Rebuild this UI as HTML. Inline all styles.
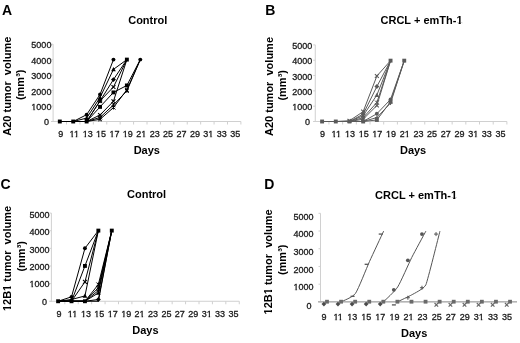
<!DOCTYPE html><html><head><meta charset="utf-8"><style>html,body{margin:0;padding:0;background:#fff;width:520px;height:343px;overflow:hidden;}body{position:relative;font-family:"Liberation Sans", sans-serif;}</style></head><body><svg width="520" height="343" viewBox="0 0 520 343" style="position:absolute;left:0;top:0;font-family:'Liberation Sans', sans-serif;filter:grayscale(1) blur(0.3px)">
<rect width="520" height="343" fill="#fff"/>
<text x="2" y="14.6" font-size="14" font-weight="bold" text-anchor="start" fill="#000" >A</text>
<text x="128.2" y="24" font-size="11" font-weight="bold" text-anchor="start" fill="#000" >Control</text>
<text transform="translate(11.2,86.2) rotate(-90)" font-size="11" font-weight="bold" text-anchor="middle" fill="#000">A20 tumor&#160; volume</text>
<text transform="translate(24.2,84.8) rotate(-90)" font-size="11" font-weight="bold" text-anchor="middle" fill="#000">(mm&#179;)</text>
<line x1="53.1" y1="44.2" x2="53.1" y2="122" stroke="#d0d0d0" stroke-width="1" />
<line x1="51.1" y1="121.5" x2="240.9" y2="121.5" stroke="#d0d0d0" stroke-width="1" />
<line x1="51.1" y1="121.5" x2="53.1" y2="121.5" stroke="#d0d0d0" stroke-width="1" />
<line x1="51.1" y1="106.04" x2="53.1" y2="106.04" stroke="#d0d0d0" stroke-width="1" />
<line x1="51.1" y1="90.58" x2="53.1" y2="90.58" stroke="#d0d0d0" stroke-width="1" />
<line x1="51.1" y1="75.12" x2="53.1" y2="75.12" stroke="#d0d0d0" stroke-width="1" />
<line x1="51.1" y1="59.66" x2="53.1" y2="59.66" stroke="#d0d0d0" stroke-width="1" />
<line x1="51.1" y1="44.2" x2="53.1" y2="44.2" stroke="#d0d0d0" stroke-width="1" />
<line x1="66.51" y1="121.5" x2="66.51" y2="124.5" stroke="#d0d0d0" stroke-width="1" />
<line x1="79.93" y1="121.5" x2="79.93" y2="124.5" stroke="#d0d0d0" stroke-width="1" />
<line x1="93.34" y1="121.5" x2="93.34" y2="124.5" stroke="#d0d0d0" stroke-width="1" />
<line x1="106.76" y1="121.5" x2="106.76" y2="124.5" stroke="#d0d0d0" stroke-width="1" />
<line x1="120.17" y1="121.5" x2="120.17" y2="124.5" stroke="#d0d0d0" stroke-width="1" />
<line x1="133.59" y1="121.5" x2="133.59" y2="124.5" stroke="#d0d0d0" stroke-width="1" />
<line x1="147" y1="121.5" x2="147" y2="124.5" stroke="#d0d0d0" stroke-width="1" />
<line x1="160.41" y1="121.5" x2="160.41" y2="124.5" stroke="#d0d0d0" stroke-width="1" />
<line x1="173.83" y1="121.5" x2="173.83" y2="124.5" stroke="#d0d0d0" stroke-width="1" />
<line x1="187.24" y1="121.5" x2="187.24" y2="124.5" stroke="#d0d0d0" stroke-width="1" />
<line x1="200.66" y1="121.5" x2="200.66" y2="124.5" stroke="#d0d0d0" stroke-width="1" />
<line x1="214.07" y1="121.5" x2="214.07" y2="124.5" stroke="#d0d0d0" stroke-width="1" />
<line x1="227.49" y1="121.5" x2="227.49" y2="124.5" stroke="#d0d0d0" stroke-width="1" />
<line x1="240.9" y1="121.5" x2="240.9" y2="124.5" stroke="#d0d0d0" stroke-width="1" />
<text x="49" y="125.4" font-size="9" font-weight="normal" text-anchor="end" fill="#1a1a1a" stroke="#1a1a1a" stroke-width="0.3">0</text>
<text x="51.4" y="110.1" font-size="9" font-weight="normal" text-anchor="end" fill="#1a1a1a" stroke="#1a1a1a" stroke-width="0.3">1000</text><rect x="31.2" y="109.08" width="2.13" height="1.82" fill="#fff"/><rect x="34.73" y="109.08" width="1.91" height="1.82" fill="#fff"/>
<text x="51.4" y="95.2" font-size="9" font-weight="normal" text-anchor="end" fill="#1a1a1a" stroke="#1a1a1a" stroke-width="0.3">2000</text>
<text x="51.4" y="78.8" font-size="9" font-weight="normal" text-anchor="end" fill="#1a1a1a" stroke="#1a1a1a" stroke-width="0.3">3000</text>
<text x="51.4" y="63.7" font-size="9" font-weight="normal" text-anchor="end" fill="#1a1a1a" stroke="#1a1a1a" stroke-width="0.3">4000</text>
<text x="51.4" y="48.2" font-size="9" font-weight="normal" text-anchor="end" fill="#1a1a1a" stroke="#1a1a1a" stroke-width="0.3">5000</text>
<text x="60.81" y="137.2" font-size="9" font-weight="normal" text-anchor="middle" fill="#1a1a1a" stroke="#1a1a1a" stroke-width="0.3">9</text>
<text x="74.22" y="137.2" font-size="9" font-weight="normal" text-anchor="middle" fill="#1a1a1a" stroke="#1a1a1a" stroke-width="0.3">11</text><rect x="69.38" y="136.08" width="2.13" height="1.82" fill="#fff"/><rect x="72.91" y="136.08" width="1.91" height="1.82" fill="#fff"/><rect x="73.71" y="136.08" width="2.13" height="1.82" fill="#fff"/><rect x="77.23" y="136.08" width="1.91" height="1.82" fill="#fff"/>
<text x="87.64" y="137.2" font-size="9" font-weight="normal" text-anchor="middle" fill="#1a1a1a" stroke="#1a1a1a" stroke-width="0.3">13</text><rect x="82.47" y="136.08" width="2.13" height="1.82" fill="#fff"/><rect x="85.99" y="136.08" width="1.91" height="1.82" fill="#fff"/>
<text x="101.05" y="137.2" font-size="9" font-weight="normal" text-anchor="middle" fill="#1a1a1a" stroke="#1a1a1a" stroke-width="0.3">15</text><rect x="95.88" y="136.08" width="2.13" height="1.82" fill="#fff"/><rect x="99.4" y="136.08" width="1.91" height="1.82" fill="#fff"/>
<text x="114.46" y="137.2" font-size="9" font-weight="normal" text-anchor="middle" fill="#1a1a1a" stroke="#1a1a1a" stroke-width="0.3">17</text><rect x="109.29" y="136.08" width="2.13" height="1.82" fill="#fff"/><rect x="112.81" y="136.08" width="1.91" height="1.82" fill="#fff"/>
<text x="127.88" y="137.2" font-size="9" font-weight="normal" text-anchor="middle" fill="#1a1a1a" stroke="#1a1a1a" stroke-width="0.3">19</text><rect x="122.71" y="136.08" width="2.13" height="1.82" fill="#fff"/><rect x="126.23" y="136.08" width="1.91" height="1.82" fill="#fff"/>
<text x="141.29" y="137.2" font-size="9" font-weight="normal" text-anchor="middle" fill="#1a1a1a" stroke="#1a1a1a" stroke-width="0.3">21</text><rect x="141.12" y="136.08" width="2.13" height="1.82" fill="#fff"/><rect x="144.64" y="136.08" width="1.91" height="1.82" fill="#fff"/>
<text x="154.7" y="137.2" font-size="9" font-weight="normal" text-anchor="middle" fill="#1a1a1a" stroke="#1a1a1a" stroke-width="0.3">23</text>
<text x="168.12" y="137.2" font-size="9" font-weight="normal" text-anchor="middle" fill="#1a1a1a" stroke="#1a1a1a" stroke-width="0.3">25</text>
<text x="181.53" y="137.2" font-size="9" font-weight="normal" text-anchor="middle" fill="#1a1a1a" stroke="#1a1a1a" stroke-width="0.3">27</text>
<text x="194.95" y="137.2" font-size="9" font-weight="normal" text-anchor="middle" fill="#1a1a1a" stroke="#1a1a1a" stroke-width="0.3">29</text>
<text x="208.36" y="137.2" font-size="9" font-weight="normal" text-anchor="middle" fill="#1a1a1a" stroke="#1a1a1a" stroke-width="0.3">31</text><rect x="208.19" y="136.08" width="2.13" height="1.82" fill="#fff"/><rect x="211.71" y="136.08" width="1.91" height="1.82" fill="#fff"/>
<text x="221.77" y="137.2" font-size="9" font-weight="normal" text-anchor="middle" fill="#1a1a1a" stroke="#1a1a1a" stroke-width="0.3">33</text>
<text x="235.19" y="137.2" font-size="9" font-weight="normal" text-anchor="middle" fill="#1a1a1a" stroke="#1a1a1a" stroke-width="0.3">35</text>
<text x="146.8" y="154.4" font-size="11" font-weight="bold" text-anchor="middle" fill="#000" >Days</text>
<text x="265.3" y="14.8" font-size="14" font-weight="bold" text-anchor="start" fill="#000" >B</text>
<text x="380.5" y="23.8" font-size="11" font-weight="bold" text-anchor="start" fill="#000" >CRCL + emTh-1</text><rect x="456.22" y="22.63" width="2.42" height="2.27" fill="#fff"/><rect x="460.75" y="22.63" width="2.13" height="2.27" fill="#fff"/>
<text transform="translate(272.5,86.5) rotate(-90)" font-size="11" font-weight="bold" text-anchor="middle" fill="#000">A20 tumor&#160; volume</text>
<text transform="translate(285.8,85.3) rotate(-90)" font-size="11" font-weight="bold" text-anchor="middle" fill="#000">(mm&#179;)</text>
<line x1="315.25" y1="44.9" x2="315.25" y2="122" stroke="#d0d0d0" stroke-width="1" />
<line x1="313.25" y1="121.5" x2="506.9" y2="121.5" stroke="#d0d0d0" stroke-width="1" />
<line x1="313.25" y1="121.5" x2="315.25" y2="121.5" stroke="#d0d0d0" stroke-width="1" />
<line x1="313.25" y1="106.18" x2="315.25" y2="106.18" stroke="#d0d0d0" stroke-width="1" />
<line x1="313.25" y1="90.86" x2="315.25" y2="90.86" stroke="#d0d0d0" stroke-width="1" />
<line x1="313.25" y1="75.54" x2="315.25" y2="75.54" stroke="#d0d0d0" stroke-width="1" />
<line x1="313.25" y1="60.22" x2="315.25" y2="60.22" stroke="#d0d0d0" stroke-width="1" />
<line x1="313.25" y1="44.9" x2="315.25" y2="44.9" stroke="#d0d0d0" stroke-width="1" />
<line x1="328.94" y1="121.5" x2="328.94" y2="124.5" stroke="#d0d0d0" stroke-width="1" />
<line x1="342.63" y1="121.5" x2="342.63" y2="124.5" stroke="#d0d0d0" stroke-width="1" />
<line x1="356.32" y1="121.5" x2="356.32" y2="124.5" stroke="#d0d0d0" stroke-width="1" />
<line x1="370.01" y1="121.5" x2="370.01" y2="124.5" stroke="#d0d0d0" stroke-width="1" />
<line x1="383.7" y1="121.5" x2="383.7" y2="124.5" stroke="#d0d0d0" stroke-width="1" />
<line x1="397.39" y1="121.5" x2="397.39" y2="124.5" stroke="#d0d0d0" stroke-width="1" />
<line x1="411.07" y1="121.5" x2="411.07" y2="124.5" stroke="#d0d0d0" stroke-width="1" />
<line x1="424.76" y1="121.5" x2="424.76" y2="124.5" stroke="#d0d0d0" stroke-width="1" />
<line x1="438.45" y1="121.5" x2="438.45" y2="124.5" stroke="#d0d0d0" stroke-width="1" />
<line x1="452.14" y1="121.5" x2="452.14" y2="124.5" stroke="#d0d0d0" stroke-width="1" />
<line x1="465.83" y1="121.5" x2="465.83" y2="124.5" stroke="#d0d0d0" stroke-width="1" />
<line x1="479.52" y1="121.5" x2="479.52" y2="124.5" stroke="#d0d0d0" stroke-width="1" />
<line x1="493.21" y1="121.5" x2="493.21" y2="124.5" stroke="#d0d0d0" stroke-width="1" />
<line x1="506.9" y1="121.5" x2="506.9" y2="124.5" stroke="#d0d0d0" stroke-width="1" />
<text x="310.1" y="125.4" font-size="9" font-weight="normal" text-anchor="end" fill="#1a1a1a" stroke="#1a1a1a" stroke-width="0.3">0</text>
<text x="312.3" y="110.1" font-size="9" font-weight="normal" text-anchor="end" fill="#1a1a1a" stroke="#1a1a1a" stroke-width="0.3">1000</text><rect x="292.1" y="109.08" width="2.13" height="1.82" fill="#fff"/><rect x="295.63" y="109.08" width="1.91" height="1.82" fill="#fff"/>
<text x="312.3" y="94.8" font-size="9" font-weight="normal" text-anchor="end" fill="#1a1a1a" stroke="#1a1a1a" stroke-width="0.3">2000</text>
<text x="312.3" y="79.5" font-size="9" font-weight="normal" text-anchor="end" fill="#1a1a1a" stroke="#1a1a1a" stroke-width="0.3">3000</text>
<text x="312.3" y="64.3" font-size="9" font-weight="normal" text-anchor="end" fill="#1a1a1a" stroke="#1a1a1a" stroke-width="0.3">4000</text>
<text x="312.3" y="48.9" font-size="9" font-weight="normal" text-anchor="end" fill="#1a1a1a" stroke="#1a1a1a" stroke-width="0.3">5000</text>
<text x="322.6" y="136.9" font-size="9" font-weight="normal" text-anchor="middle" fill="#1a1a1a" stroke="#1a1a1a" stroke-width="0.3">9</text>
<text x="336.29" y="136.9" font-size="9" font-weight="normal" text-anchor="middle" fill="#1a1a1a" stroke="#1a1a1a" stroke-width="0.3">11</text><rect x="331.45" y="136.08" width="2.13" height="1.82" fill="#fff"/><rect x="334.98" y="136.08" width="1.91" height="1.82" fill="#fff"/><rect x="335.78" y="136.08" width="2.13" height="1.82" fill="#fff"/><rect x="339.3" y="136.08" width="1.91" height="1.82" fill="#fff"/>
<text x="349.98" y="136.9" font-size="9" font-weight="normal" text-anchor="middle" fill="#1a1a1a" stroke="#1a1a1a" stroke-width="0.3">13</text><rect x="344.81" y="136.08" width="2.13" height="1.82" fill="#fff"/><rect x="348.33" y="136.08" width="1.91" height="1.82" fill="#fff"/>
<text x="363.67" y="136.9" font-size="9" font-weight="normal" text-anchor="middle" fill="#1a1a1a" stroke="#1a1a1a" stroke-width="0.3">15</text><rect x="358.5" y="136.08" width="2.13" height="1.82" fill="#fff"/><rect x="362.02" y="136.08" width="1.91" height="1.82" fill="#fff"/>
<text x="377.36" y="136.9" font-size="9" font-weight="normal" text-anchor="middle" fill="#1a1a1a" stroke="#1a1a1a" stroke-width="0.3">17</text><rect x="372.19" y="136.08" width="2.13" height="1.82" fill="#fff"/><rect x="375.71" y="136.08" width="1.91" height="1.82" fill="#fff"/>
<text x="391.05" y="136.9" font-size="9" font-weight="normal" text-anchor="middle" fill="#1a1a1a" stroke="#1a1a1a" stroke-width="0.3">19</text><rect x="385.88" y="136.08" width="2.13" height="1.82" fill="#fff"/><rect x="389.4" y="136.08" width="1.91" height="1.82" fill="#fff"/>
<text x="404.74" y="136.9" font-size="9" font-weight="normal" text-anchor="middle" fill="#1a1a1a" stroke="#1a1a1a" stroke-width="0.3">21</text><rect x="404.57" y="136.08" width="2.13" height="1.82" fill="#fff"/><rect x="408.09" y="136.08" width="1.91" height="1.82" fill="#fff"/>
<text x="418.43" y="136.9" font-size="9" font-weight="normal" text-anchor="middle" fill="#1a1a1a" stroke="#1a1a1a" stroke-width="0.3">23</text>
<text x="432.12" y="136.9" font-size="9" font-weight="normal" text-anchor="middle" fill="#1a1a1a" stroke="#1a1a1a" stroke-width="0.3">25</text>
<text x="445.81" y="136.9" font-size="9" font-weight="normal" text-anchor="middle" fill="#1a1a1a" stroke="#1a1a1a" stroke-width="0.3">27</text>
<text x="459.5" y="136.9" font-size="9" font-weight="normal" text-anchor="middle" fill="#1a1a1a" stroke="#1a1a1a" stroke-width="0.3">29</text>
<text x="473.19" y="136.9" font-size="9" font-weight="normal" text-anchor="middle" fill="#1a1a1a" stroke="#1a1a1a" stroke-width="0.3">31</text><rect x="473.02" y="136.08" width="2.13" height="1.82" fill="#fff"/><rect x="476.54" y="136.08" width="1.91" height="1.82" fill="#fff"/>
<text x="486.88" y="136.9" font-size="9" font-weight="normal" text-anchor="middle" fill="#1a1a1a" stroke="#1a1a1a" stroke-width="0.3">33</text>
<text x="500.57" y="136.9" font-size="9" font-weight="normal" text-anchor="middle" fill="#1a1a1a" stroke="#1a1a1a" stroke-width="0.3">35</text>
<text x="413.1" y="154.4" font-size="11" font-weight="bold" text-anchor="middle" fill="#000" >Days</text>
<text x="0.6" y="189.2" font-size="14" font-weight="bold" text-anchor="start" fill="#000" >C</text>
<text x="127" y="197.5" font-size="11" font-weight="bold" text-anchor="start" fill="#000" >Control</text>
<text transform="translate(11,258.5) rotate(-90)" font-size="11" font-weight="bold" text-anchor="middle" fill="#000">12B1 tumor&#160; volume</text><g transform="translate(11,258.5) rotate(-90)"><rect x="-52.73" y="-1.62" width="2.42" height="2.52" fill="#fff"/><rect x="-48.19" y="-1.62" width="2.13" height="2.52" fill="#fff"/><rect x="-32.56" y="-1.62" width="2.42" height="2.52" fill="#fff"/><rect x="-28.02" y="-1.62" width="2.13" height="2.52" fill="#fff"/></g>
<text transform="translate(25,256.3) rotate(-90)" font-size="11" font-weight="bold" text-anchor="middle" fill="#000">(mm&#179;)</text>
<line x1="51.4" y1="213.1" x2="51.4" y2="301.75" stroke="#d0d0d0" stroke-width="1" />
<line x1="49.4" y1="301.25" x2="239.25" y2="301.25" stroke="#d0d0d0" stroke-width="1" />
<line x1="49.4" y1="301.25" x2="51.4" y2="301.25" stroke="#d0d0d0" stroke-width="1" />
<line x1="49.4" y1="283.62" x2="51.4" y2="283.62" stroke="#d0d0d0" stroke-width="1" />
<line x1="49.4" y1="265.99" x2="51.4" y2="265.99" stroke="#d0d0d0" stroke-width="1" />
<line x1="49.4" y1="248.36" x2="51.4" y2="248.36" stroke="#d0d0d0" stroke-width="1" />
<line x1="49.4" y1="230.73" x2="51.4" y2="230.73" stroke="#d0d0d0" stroke-width="1" />
<line x1="49.4" y1="213.1" x2="51.4" y2="213.1" stroke="#d0d0d0" stroke-width="1" />
<line x1="64.82" y1="301.25" x2="64.82" y2="304.25" stroke="#d0d0d0" stroke-width="1" />
<line x1="78.24" y1="301.25" x2="78.24" y2="304.25" stroke="#d0d0d0" stroke-width="1" />
<line x1="91.65" y1="301.25" x2="91.65" y2="304.25" stroke="#d0d0d0" stroke-width="1" />
<line x1="105.07" y1="301.25" x2="105.07" y2="304.25" stroke="#d0d0d0" stroke-width="1" />
<line x1="118.49" y1="301.25" x2="118.49" y2="304.25" stroke="#d0d0d0" stroke-width="1" />
<line x1="131.91" y1="301.25" x2="131.91" y2="304.25" stroke="#d0d0d0" stroke-width="1" />
<line x1="145.32" y1="301.25" x2="145.32" y2="304.25" stroke="#d0d0d0" stroke-width="1" />
<line x1="158.74" y1="301.25" x2="158.74" y2="304.25" stroke="#d0d0d0" stroke-width="1" />
<line x1="172.16" y1="301.25" x2="172.16" y2="304.25" stroke="#d0d0d0" stroke-width="1" />
<line x1="185.58" y1="301.25" x2="185.58" y2="304.25" stroke="#d0d0d0" stroke-width="1" />
<line x1="199" y1="301.25" x2="199" y2="304.25" stroke="#d0d0d0" stroke-width="1" />
<line x1="212.41" y1="301.25" x2="212.41" y2="304.25" stroke="#d0d0d0" stroke-width="1" />
<line x1="225.83" y1="301.25" x2="225.83" y2="304.25" stroke="#d0d0d0" stroke-width="1" />
<line x1="239.25" y1="301.25" x2="239.25" y2="304.25" stroke="#d0d0d0" stroke-width="1" />
<text x="46.9" y="305.2" font-size="9" font-weight="normal" text-anchor="end" fill="#1a1a1a" stroke="#1a1a1a" stroke-width="0.3">0</text>
<text x="49.6" y="287.2" font-size="9" font-weight="normal" text-anchor="end" fill="#1a1a1a" stroke="#1a1a1a" stroke-width="0.3">1000</text><rect x="29.4" y="286.08" width="2.13" height="1.82" fill="#fff"/><rect x="32.93" y="286.08" width="1.91" height="1.82" fill="#fff"/>
<text x="49.6" y="269.7" font-size="9" font-weight="normal" text-anchor="end" fill="#1a1a1a" stroke="#1a1a1a" stroke-width="0.3">2000</text>
<text x="49.6" y="253.2" font-size="9" font-weight="normal" text-anchor="end" fill="#1a1a1a" stroke="#1a1a1a" stroke-width="0.3">3000</text>
<text x="49.6" y="235.1" font-size="9" font-weight="normal" text-anchor="end" fill="#1a1a1a" stroke="#1a1a1a" stroke-width="0.3">4000</text>
<text x="49.6" y="217.6" font-size="9" font-weight="normal" text-anchor="end" fill="#1a1a1a" stroke="#1a1a1a" stroke-width="0.3">5000</text>
<text x="59.11" y="316.6" font-size="9" font-weight="normal" text-anchor="middle" fill="#1a1a1a" stroke="#1a1a1a" stroke-width="0.3">9</text>
<text x="72.53" y="316.6" font-size="9" font-weight="normal" text-anchor="middle" fill="#1a1a1a" stroke="#1a1a1a" stroke-width="0.3">11</text><rect x="67.69" y="316.08" width="2.13" height="1.82" fill="#fff"/><rect x="71.22" y="316.08" width="1.91" height="1.82" fill="#fff"/><rect x="72.02" y="316.08" width="2.13" height="1.82" fill="#fff"/><rect x="75.54" y="316.08" width="1.91" height="1.82" fill="#fff"/>
<text x="85.94" y="316.6" font-size="9" font-weight="normal" text-anchor="middle" fill="#1a1a1a" stroke="#1a1a1a" stroke-width="0.3">13</text><rect x="80.77" y="316.08" width="2.13" height="1.82" fill="#fff"/><rect x="84.29" y="316.08" width="1.91" height="1.82" fill="#fff"/>
<text x="99.36" y="316.6" font-size="9" font-weight="normal" text-anchor="middle" fill="#1a1a1a" stroke="#1a1a1a" stroke-width="0.3">15</text><rect x="94.19" y="316.08" width="2.13" height="1.82" fill="#fff"/><rect x="97.71" y="316.08" width="1.91" height="1.82" fill="#fff"/>
<text x="112.78" y="316.6" font-size="9" font-weight="normal" text-anchor="middle" fill="#1a1a1a" stroke="#1a1a1a" stroke-width="0.3">17</text><rect x="107.61" y="316.08" width="2.13" height="1.82" fill="#fff"/><rect x="111.13" y="316.08" width="1.91" height="1.82" fill="#fff"/>
<text x="126.2" y="316.6" font-size="9" font-weight="normal" text-anchor="middle" fill="#1a1a1a" stroke="#1a1a1a" stroke-width="0.3">19</text><rect x="121.03" y="316.08" width="2.13" height="1.82" fill="#fff"/><rect x="124.55" y="316.08" width="1.91" height="1.82" fill="#fff"/>
<text x="139.62" y="316.6" font-size="9" font-weight="normal" text-anchor="middle" fill="#1a1a1a" stroke="#1a1a1a" stroke-width="0.3">21</text><rect x="139.45" y="316.08" width="2.13" height="1.82" fill="#fff"/><rect x="142.97" y="316.08" width="1.91" height="1.82" fill="#fff"/>
<text x="153.03" y="316.6" font-size="9" font-weight="normal" text-anchor="middle" fill="#1a1a1a" stroke="#1a1a1a" stroke-width="0.3">23</text>
<text x="166.45" y="316.6" font-size="9" font-weight="normal" text-anchor="middle" fill="#1a1a1a" stroke="#1a1a1a" stroke-width="0.3">25</text>
<text x="179.87" y="316.6" font-size="9" font-weight="normal" text-anchor="middle" fill="#1a1a1a" stroke="#1a1a1a" stroke-width="0.3">27</text>
<text x="193.29" y="316.6" font-size="9" font-weight="normal" text-anchor="middle" fill="#1a1a1a" stroke="#1a1a1a" stroke-width="0.3">29</text>
<text x="206.71" y="316.6" font-size="9" font-weight="normal" text-anchor="middle" fill="#1a1a1a" stroke="#1a1a1a" stroke-width="0.3">31</text><rect x="206.54" y="316.08" width="2.13" height="1.82" fill="#fff"/><rect x="210.06" y="316.08" width="1.91" height="1.82" fill="#fff"/>
<text x="220.12" y="316.6" font-size="9" font-weight="normal" text-anchor="middle" fill="#1a1a1a" stroke="#1a1a1a" stroke-width="0.3">33</text>
<text x="233.54" y="316.6" font-size="9" font-weight="normal" text-anchor="middle" fill="#1a1a1a" stroke="#1a1a1a" stroke-width="0.3">35</text>
<text x="145.4" y="333.5" font-size="11" font-weight="bold" text-anchor="middle" fill="#000" >Days</text>
<text x="264.2" y="189.4" font-size="14" font-weight="bold" text-anchor="start" fill="#000" >D</text>
<text x="375.1" y="198.75" font-size="11" font-weight="bold" text-anchor="start" fill="#000" >CRCL + emTh-1</text><rect x="450.82" y="197.63" width="2.42" height="2.27" fill="#fff"/><rect x="455.35" y="197.63" width="2.13" height="2.27" fill="#fff"/>
<text transform="translate(272,261.9) rotate(-90)" font-size="11" font-weight="bold" text-anchor="middle" fill="#000">12B1 tumor&#160; volume</text><g transform="translate(272,261.9) rotate(-90)"><rect x="-52.73" y="-1.62" width="2.42" height="2.52" fill="#fff"/><rect x="-48.19" y="-1.62" width="2.13" height="2.52" fill="#fff"/><rect x="-32.56" y="-1.62" width="2.42" height="2.52" fill="#fff"/><rect x="-28.02" y="-1.62" width="2.13" height="2.52" fill="#fff"/></g>
<text transform="translate(285.8,259.8) rotate(-90)" font-size="11" font-weight="bold" text-anchor="middle" fill="#000">(mm&#179;)</text>
<line x1="320.5" y1="213.3" x2="320.5" y2="302.4" stroke="#d0d0d0" stroke-width="1" />
<line x1="318.5" y1="301.9" x2="517" y2="301.9" stroke="#d0d0d0" stroke-width="1" />
<line x1="318.5" y1="301.9" x2="320.5" y2="301.9" stroke="#d0d0d0" stroke-width="1" />
<line x1="318.5" y1="284.18" x2="320.5" y2="284.18" stroke="#d0d0d0" stroke-width="1" />
<line x1="318.5" y1="266.46" x2="320.5" y2="266.46" stroke="#d0d0d0" stroke-width="1" />
<line x1="318.5" y1="248.74" x2="320.5" y2="248.74" stroke="#d0d0d0" stroke-width="1" />
<line x1="318.5" y1="231.02" x2="320.5" y2="231.02" stroke="#d0d0d0" stroke-width="1" />
<line x1="318.5" y1="213.3" x2="320.5" y2="213.3" stroke="#d0d0d0" stroke-width="1" />
<text x="311.4" y="308.8" font-size="9" font-weight="normal" text-anchor="end" fill="#1a1a1a" stroke="#1a1a1a" stroke-width="0.3">0</text>
<text x="313.5" y="290.2" font-size="9" font-weight="normal" text-anchor="end" fill="#1a1a1a" stroke="#1a1a1a" stroke-width="0.3">1000</text><rect x="293.3" y="289.08" width="2.13" height="1.82" fill="#fff"/><rect x="296.83" y="289.08" width="1.91" height="1.82" fill="#fff"/>
<text x="313.5" y="273.2" font-size="9" font-weight="normal" text-anchor="end" fill="#1a1a1a" stroke="#1a1a1a" stroke-width="0.3">2000</text>
<text x="313.5" y="255.2" font-size="9" font-weight="normal" text-anchor="end" fill="#1a1a1a" stroke="#1a1a1a" stroke-width="0.3">3000</text>
<text x="313.5" y="237.2" font-size="9" font-weight="normal" text-anchor="end" fill="#1a1a1a" stroke="#1a1a1a" stroke-width="0.3">4000</text>
<text x="313.5" y="219.8" font-size="9" font-weight="normal" text-anchor="end" fill="#1a1a1a" stroke="#1a1a1a" stroke-width="0.3">5000</text>
<text x="324" y="320.2" font-size="9" font-weight="normal" text-anchor="middle" fill="#1a1a1a" stroke="#1a1a1a" stroke-width="0.3">9</text>
<text x="338.08" y="320.2" font-size="9" font-weight="normal" text-anchor="middle" fill="#1a1a1a" stroke="#1a1a1a" stroke-width="0.3">11</text><rect x="333.24" y="319.08" width="2.13" height="1.82" fill="#fff"/><rect x="336.77" y="319.08" width="1.91" height="1.82" fill="#fff"/><rect x="337.57" y="319.08" width="2.13" height="1.82" fill="#fff"/><rect x="341.09" y="319.08" width="1.91" height="1.82" fill="#fff"/>
<text x="352.16" y="320.2" font-size="9" font-weight="normal" text-anchor="middle" fill="#1a1a1a" stroke="#1a1a1a" stroke-width="0.3">13</text><rect x="346.99" y="319.08" width="2.13" height="1.82" fill="#fff"/><rect x="350.51" y="319.08" width="1.91" height="1.82" fill="#fff"/>
<text x="366.24" y="320.2" font-size="9" font-weight="normal" text-anchor="middle" fill="#1a1a1a" stroke="#1a1a1a" stroke-width="0.3">15</text><rect x="361.07" y="319.08" width="2.13" height="1.82" fill="#fff"/><rect x="364.59" y="319.08" width="1.91" height="1.82" fill="#fff"/>
<text x="380.32" y="320.2" font-size="9" font-weight="normal" text-anchor="middle" fill="#1a1a1a" stroke="#1a1a1a" stroke-width="0.3">17</text><rect x="375.15" y="319.08" width="2.13" height="1.82" fill="#fff"/><rect x="378.67" y="319.08" width="1.91" height="1.82" fill="#fff"/>
<text x="394.4" y="320.2" font-size="9" font-weight="normal" text-anchor="middle" fill="#1a1a1a" stroke="#1a1a1a" stroke-width="0.3">19</text><rect x="389.23" y="319.08" width="2.13" height="1.82" fill="#fff"/><rect x="392.75" y="319.08" width="1.91" height="1.82" fill="#fff"/>
<text x="408.48" y="320.2" font-size="9" font-weight="normal" text-anchor="middle" fill="#1a1a1a" stroke="#1a1a1a" stroke-width="0.3">21</text><rect x="408.31" y="319.08" width="2.13" height="1.82" fill="#fff"/><rect x="411.83" y="319.08" width="1.91" height="1.82" fill="#fff"/>
<text x="422.56" y="320.2" font-size="9" font-weight="normal" text-anchor="middle" fill="#1a1a1a" stroke="#1a1a1a" stroke-width="0.3">23</text>
<text x="436.64" y="320.2" font-size="9" font-weight="normal" text-anchor="middle" fill="#1a1a1a" stroke="#1a1a1a" stroke-width="0.3">25</text>
<text x="450.72" y="320.2" font-size="9" font-weight="normal" text-anchor="middle" fill="#1a1a1a" stroke="#1a1a1a" stroke-width="0.3">27</text>
<text x="464.8" y="320.2" font-size="9" font-weight="normal" text-anchor="middle" fill="#1a1a1a" stroke="#1a1a1a" stroke-width="0.3">29</text>
<text x="478.88" y="320.2" font-size="9" font-weight="normal" text-anchor="middle" fill="#1a1a1a" stroke="#1a1a1a" stroke-width="0.3">31</text><rect x="478.71" y="319.08" width="2.13" height="1.82" fill="#fff"/><rect x="482.23" y="319.08" width="1.91" height="1.82" fill="#fff"/>
<text x="492.96" y="320.2" font-size="9" font-weight="normal" text-anchor="middle" fill="#1a1a1a" stroke="#1a1a1a" stroke-width="0.3">33</text>
<text x="507.04" y="320.2" font-size="9" font-weight="normal" text-anchor="middle" fill="#1a1a1a" stroke="#1a1a1a" stroke-width="0.3">35</text>
<text x="414.2" y="337.25" font-size="11" font-weight="bold" text-anchor="middle" fill="#000" >Days</text>
<path d="M59.81 121.5 L73.22 121.5 L86.64 114.69 L100.05 94.42 L113.46 59.6" stroke="#000" stroke-width="1.0" fill="none" stroke-linejoin="round"/>
<path d="M59.81 121.5 L73.22 121.5 L86.64 118.1 L100.05 97.51 L113.46 69.35 L126.88 59.6" stroke="#000" stroke-width="1.0" fill="none" stroke-linejoin="round"/>
<path d="M59.81 121.5 L73.22 121.5 L86.64 121.5 L100.05 100.92 L113.46 79.56 L126.88 59.6" stroke="#000" stroke-width="1.0" fill="none" stroke-linejoin="round"/>
<path d="M59.81 121.5 L73.22 121.5 L86.64 121.5 L100.05 100.92 L113.46 86.99 L126.88 59.6" stroke="#000" stroke-width="1.0" fill="none" stroke-linejoin="round"/>
<path d="M59.81 121.5 L73.22 121.5 L86.64 121.5 L100.05 106.88 L113.46 92.41 L126.88 85.44 L140.29 59.6" stroke="#000" stroke-width="1.0" fill="none" stroke-linejoin="round"/>
<path d="M59.81 121.5 L73.22 121.5 L86.64 121.5 L100.05 115 L113.46 101.23 L126.88 59.6" stroke="#000" stroke-width="1.0" fill="none" stroke-linejoin="round"/>
<path d="M59.81 121.5 L73.22 121.5 L86.64 121.5 L100.05 117.48 L113.46 104.94 L126.88 90.86 L140.29 59.6" stroke="#000" stroke-width="1.0" fill="none" stroke-linejoin="round"/>
<path d="M59.81 121.5 L73.22 121.5 L86.64 121.5 L100.05 119.33 L113.46 107.57 L126.88 89.78 L140.29 59.6" stroke="#000" stroke-width="1.0" fill="none" stroke-linejoin="round"/>
<path d="M59.81 121.5 L73.22 121.5 L86.64 121.5" stroke="#000" stroke-width="1.0" fill="none" stroke-linejoin="round"/>
<circle cx="86.64" cy="114.69" r="1.95" fill="#000"/>
<circle cx="100.05" cy="94.42" r="1.95" fill="#000"/>
<polygon points="86.64,115.76 88.98,119.97 84.3,119.97" fill="#000"/>
<polygon points="100.05,95.17 102.39,99.39 97.71,99.39" fill="#000"/>
<polygon points="113.46,67.01 115.8,71.22 111.12,71.22" fill="#000"/>
<polygon points="100.05,98.48 102.49,100.92 100.05,103.36 97.61,100.92" fill="#000"/>
<polygon points="113.46,77.13 115.9,79.56 113.46,82 111.03,79.56" fill="#000"/>
<path d="M98.1 98.97L102 102.87M102 98.97L98.1 102.87" stroke="#000" stroke-width="1.1" fill="none"/>
<path d="M111.51 85.04L115.41 88.94M115.41 85.04L111.51 88.94" stroke="#000" stroke-width="1.1" fill="none"/>
<rect x="98.1" y="104.93" width="3.9" height="3.9" fill="#000"/>
<rect x="111.51" y="90.46" width="3.9" height="3.9" fill="#000"/>
<rect x="124.93" y="83.49" width="3.9" height="3.9" fill="#000"/>
<path d="M98.1 113.05L102 116.95M102 113.05L98.1 116.95" stroke="#000" stroke-width="1.1" fill="none"/>
<path d="M111.51 99.28L115.41 103.18M115.41 99.28L111.51 103.18" stroke="#000" stroke-width="1.1" fill="none"/>
<path d="M98.1 115.53L102 119.43M102 115.53L98.1 119.43M100.05 115.53L100.05 119.43" stroke="#000" stroke-width="1" fill="none"/>
<path d="M111.51 102.99L115.41 106.89M115.41 102.99L111.51 106.89M113.46 102.99L113.46 106.89" stroke="#000" stroke-width="1" fill="none"/>
<path d="M124.93 88.91L128.83 92.81M128.83 88.91L124.93 92.81M126.88 88.91L126.88 92.81" stroke="#000" stroke-width="1" fill="none"/>
<path d="M98.1 117.38L102 121.28M102 117.38L98.1 121.28M100.05 117.38L100.05 121.28" stroke="#000" stroke-width="1" fill="none"/>
<path d="M111.51 105.62L115.41 109.52M115.41 105.62L111.51 109.52M113.46 105.62L113.46 109.52" stroke="#000" stroke-width="1" fill="none"/>
<path d="M124.93 87.83L128.83 91.73M128.83 87.83L124.93 91.73M126.88 87.83L126.88 91.73" stroke="#000" stroke-width="1" fill="none"/>
<rect x="57.86" y="119.55" width="3.9" height="3.9" fill="#000"/>
<rect x="71.27" y="119.55" width="3.9" height="3.9" fill="#000"/>
<rect x="84.69" y="119.55" width="3.9" height="3.9" fill="#000"/>
<circle cx="113.46" cy="59.6" r="1.95" fill="#000"/>
<rect x="124.93" y="57.65" width="3.9" height="3.9" fill="#000"/>
<circle cx="140.29" cy="59.6" r="1.95" fill="#000"/>
<path d="M322.1 121.5 L335.79 121.5 L349.48 120.74 L363.17 111.61 L376.86 76.02 L390.55 60.66" stroke="#5a5a5a" stroke-width="1.0" fill="none" stroke-linejoin="round"/>
<path d="M322.1 121.5 L335.79 121.5 L349.48 121.5 L363.17 114.2 L376.86 86.52 L390.55 60.66" stroke="#5a5a5a" stroke-width="1.0" fill="none" stroke-linejoin="round"/>
<path d="M322.1 121.5 L335.79 121.5 L349.48 121.5 L363.17 115.72 L376.86 95.03 L390.55 60.66" stroke="#5a5a5a" stroke-width="1.0" fill="none" stroke-linejoin="round"/>
<path d="M322.1 121.5 L335.79 121.5 L349.48 121.5 L363.17 117.7 L376.86 102.49 L390.55 60.66" stroke="#5a5a5a" stroke-width="1.0" fill="none" stroke-linejoin="round"/>
<path d="M322.1 121.5 L335.79 121.5 L349.48 121.5 L363.17 119.22 L376.86 105.53 L390.55 60.66" stroke="#5a5a5a" stroke-width="1.0" fill="none" stroke-linejoin="round"/>
<path d="M322.1 121.5 L335.79 121.5 L349.48 121.5 L363.17 121.5 L376.86 113.74 L390.55 99.45 L404.24 60.66" stroke="#5a5a5a" stroke-width="1.0" fill="none" stroke-linejoin="round"/>
<path d="M322.1 121.5 L335.79 121.5 L349.48 121.5 L363.17 121.5 L376.86 117.55 L390.55 103.1 L404.24 60.66" stroke="#5a5a5a" stroke-width="1.0" fill="none" stroke-linejoin="round"/>
<path d="M322.1 121.5 L335.79 121.5 L349.48 121.5 L363.17 121.5 L376.86 119.98 L390.55 101.73 L404.24 60.66" stroke="#5a5a5a" stroke-width="1.0" fill="none" stroke-linejoin="round"/>
<path d="M322.1 121.5 L335.79 121.5 L349.48 121.5 L363.17 121.5" stroke="#5a5a5a" stroke-width="1.0" fill="none" stroke-linejoin="round"/>
<path d="M347.53 118.79L351.43 122.69M351.43 118.79L347.53 122.69" stroke="#5a5a5a" stroke-width="1.1" fill="none"/>
<path d="M361.22 109.66L365.12 113.56M365.12 109.66L361.22 113.56" stroke="#5a5a5a" stroke-width="1.1" fill="none"/>
<path d="M374.91 74.07L378.81 77.97M378.81 74.07L374.91 77.97" stroke="#5a5a5a" stroke-width="1.1" fill="none"/>
<polygon points="363.17,111.76 365.6,114.2 363.17,116.64 360.73,114.2" fill="#5a5a5a"/>
<polygon points="376.86,84.08 379.29,86.52 376.86,88.95 374.42,86.52" fill="#5a5a5a"/>
<polygon points="363.17,113.38 365.5,117.59 360.83,117.59" fill="#5a5a5a"/>
<polygon points="376.86,92.69 379.19,96.91 374.52,96.91" fill="#5a5a5a"/>
<path d="M361.22 115.75L365.12 119.65M365.12 115.75L361.22 119.65M363.17 115.75L363.17 119.65" stroke="#5a5a5a" stroke-width="1" fill="none"/>
<path d="M374.91 100.54L378.81 104.44M378.81 100.54L374.91 104.44M376.86 100.54L376.86 104.44" stroke="#5a5a5a" stroke-width="1" fill="none"/>
<path d="M361.22 117.27L365.12 121.17M365.12 117.27L361.22 121.17" stroke="#5a5a5a" stroke-width="1.1" fill="none"/>
<path d="M374.91 103.58L378.81 107.48M378.81 103.58L374.91 107.48" stroke="#5a5a5a" stroke-width="1.1" fill="none"/>
<circle cx="376.86" cy="113.74" r="1.95" fill="#5a5a5a"/>
<circle cx="390.55" cy="99.45" r="1.95" fill="#5a5a5a"/>
<path d="M374.91 117.55L378.81 117.55M376.86 115.6L376.86 119.5" stroke="#5a5a5a" stroke-width="1" fill="none"/>
<path d="M388.6 103.1L392.5 103.1M390.55 101.15L390.55 105.05" stroke="#5a5a5a" stroke-width="1" fill="none"/>
<rect x="374.91" y="118.03" width="3.9" height="3.9" fill="#5a5a5a"/>
<rect x="388.6" y="99.78" width="3.9" height="3.9" fill="#5a5a5a"/>
<rect x="320.15" y="119.55" width="3.9" height="3.9" fill="#5a5a5a"/>
<rect x="333.84" y="119.55" width="3.9" height="3.9" fill="#5a5a5a"/>
<rect x="347.53" y="119.55" width="3.9" height="3.9" fill="#5a5a5a"/>
<rect x="361.22" y="119.55" width="3.9" height="3.9" fill="#5a5a5a"/>
<rect x="388.6" y="58.71" width="3.9" height="3.9" fill="#5a5a5a"/>
<rect x="402.29" y="58.71" width="3.9" height="3.9" fill="#5a5a5a"/>
<path d="M58.11 301.25 L71.53 296.83 L84.94 248.27 L98.36 230.61" stroke="#000" stroke-width="1.0" fill="none" stroke-linejoin="round"/>
<path d="M58.11 301.25 L71.53 301.25 L84.94 265.93 L98.36 230.61" stroke="#000" stroke-width="1.0" fill="none" stroke-linejoin="round"/>
<path d="M58.11 301.25 L71.53 301.25 L84.94 281.82 L98.36 230.61" stroke="#000" stroke-width="1.0" fill="none" stroke-linejoin="round"/>
<path d="M58.11 301.25 L71.53 299.48 L84.94 295.95 L98.36 230.61" stroke="#000" stroke-width="1.0" fill="none" stroke-linejoin="round"/>
<path d="M58.11 301.25 L71.53 301.25 L84.94 301.25 L98.36 284.47 L111.78 230.61" stroke="#000" stroke-width="1.0" fill="none" stroke-linejoin="round"/>
<path d="M58.11 301.25 L71.53 301.25 L84.94 301.25 L98.36 287.83 L111.78 230.61" stroke="#000" stroke-width="1.0" fill="none" stroke-linejoin="round"/>
<path d="M58.11 301.25 L71.53 301.25 L84.94 301.25 L98.36 290.65 L111.78 230.61" stroke="#000" stroke-width="1.0" fill="none" stroke-linejoin="round"/>
<path d="M58.11 301.25 L71.53 301.25 L84.94 301.25 L98.36 292.95 L111.78 230.61" stroke="#000" stroke-width="1.0" fill="none" stroke-linejoin="round"/>
<path d="M58.11 301.25 L71.53 301.25 L84.94 301.25 L98.36 299.48 L111.78 230.61" stroke="#000" stroke-width="1.0" fill="none" stroke-linejoin="round"/>
<path d="M58.11 301.25 L71.53 301.25 L84.94 301.25 L98.36 301.25 L111.78 230.61" stroke="#000" stroke-width="1.0" fill="none" stroke-linejoin="round"/>
<path d="M58.11 301.25 L71.53 301.25 L84.94 301.25" stroke="#000" stroke-width="1.0" fill="none" stroke-linejoin="round"/>
<circle cx="71.53" cy="296.83" r="1.95" fill="#000"/>
<circle cx="84.94" cy="248.27" r="1.95" fill="#000"/>
<rect x="82.99" y="263.98" width="3.9" height="3.9" fill="#000"/>
<path d="M82.99 279.87L86.89 283.77M86.89 279.87L82.99 283.77" stroke="#000" stroke-width="1.1" fill="none"/>
<polygon points="71.53,297.14 73.87,301.36 69.19,301.36" fill="#000"/>
<polygon points="84.94,293.61 87.28,297.82 82.6,297.82" fill="#000"/>
<path d="M96.41 282.52L100.31 286.42M100.31 282.52L96.41 286.42M98.36 282.52L98.36 286.42" stroke="#000" stroke-width="1" fill="none"/>
<path d="M96.41 285.88L100.31 289.78M100.31 285.88L96.41 289.78" stroke="#000" stroke-width="1.1" fill="none"/>
<path d="M96.41 290.65L100.31 290.65M98.36 288.7L98.36 292.6" stroke="#000" stroke-width="1" fill="none"/>
<polygon points="98.36,290.61 100.7,294.82 96.02,294.82" fill="#000"/>
<polygon points="98.36,297.05 100.8,299.48 98.36,301.92 95.93,299.48" fill="#000"/>
<rect x="56.16" y="299.3" width="3.9" height="3.9" fill="#000"/>
<rect x="69.58" y="299.3" width="3.9" height="3.9" fill="#000"/>
<rect x="82.99" y="299.3" width="3.9" height="3.9" fill="#000"/>
<rect x="96.41" y="228.66" width="3.9" height="3.9" fill="#000"/>
<rect x="109.83" y="228.66" width="3.9" height="3.9" fill="#000"/>
<line x1="318" y1="301.7" x2="517" y2="301.7" stroke="#b4b4b4" stroke-width="1.6" />
<path d="M341.38 301.7 C342.79 300.87 352.64 297.44 355.46 293.41 C358.28 289.38 366.72 267.64 369.54 261.41 C372.36 255.19 382.21 234.2 383.62 231.18" stroke="#555" stroke-width="1" fill="none"/>
<path d="M383.62 301.7 C385.03 300.23 394.88 291.39 397.7 286.96 C400.52 282.53 408.96 263.01 411.78 257.43 C414.6 251.86 424.45 233.81 425.86 231.18" stroke="#555" stroke-width="1" fill="none"/>
<path d="M397.7 301.7 C398.54 301.29 410.09 295.84 411.78 294.83 C413.47 293.82 424.17 288.66 425.86 284.84 C427.55 281.02 439.1 234.4 439.94 231.18" stroke="#555" stroke-width="1" fill="none"/>
<path d="M350.56 296.31L354.56 296.31" stroke="#555" stroke-width="1.3" fill="none"/>
<path d="M364.64 264.31L368.64 264.31" stroke="#555" stroke-width="1.3" fill="none"/>
<path d="M378.72 234.08L382.72 234.08" stroke="#555" stroke-width="1.3" fill="none"/>
<circle cx="393.8" cy="289.86" r="1.9" fill="#555"/>
<circle cx="407.88" cy="260.33" r="1.9" fill="#555"/>
<circle cx="421.96" cy="234.08" r="1.9" fill="#555"/>
<path d="M405.88 297.73L409.88 297.73M407.88 295.73L407.88 299.73" stroke="#555" stroke-width="1" fill="none"/>
<path d="M419.96 287.74L423.96 287.74M421.96 285.74L421.96 289.74" stroke="#555" stroke-width="1" fill="none"/>
<path d="M434.04 234.08L438.04 234.08M436.04 232.08L436.04 236.08" stroke="#555" stroke-width="1" fill="none"/>
<rect x="325.1" y="299.8" width="3.8" height="3.8" fill="#6a6a6a"/>
<rect x="339.18" y="299.8" width="3.8" height="3.8" fill="#6a6a6a"/>
<rect x="353.26" y="299.8" width="3.8" height="3.8" fill="#6a6a6a"/>
<rect x="367.34" y="299.8" width="3.8" height="3.8" fill="#6a6a6a"/>
<rect x="381.42" y="299.8" width="3.8" height="3.8" fill="#6a6a6a"/>
<rect x="395.5" y="299.8" width="3.8" height="3.8" fill="#6a6a6a"/>
<rect x="409.58" y="299.8" width="3.8" height="3.8" fill="#6a6a6a"/>
<rect x="423.66" y="299.8" width="3.8" height="3.8" fill="#6a6a6a"/>
<rect x="437.74" y="299.8" width="3.8" height="3.8" fill="#6a6a6a"/>
<rect x="451.82" y="299.8" width="3.8" height="3.8" fill="#6a6a6a"/>
<rect x="465.9" y="299.8" width="3.8" height="3.8" fill="#6a6a6a"/>
<rect x="479.98" y="299.8" width="3.8" height="3.8" fill="#6a6a6a"/>
<rect x="494.06" y="299.8" width="3.8" height="3.8" fill="#6a6a6a"/>
<rect x="508.14" y="299.8" width="3.8" height="3.8" fill="#6a6a6a"/>
<polygon points="323.9,301.72 326.28,304.1 323.9,306.47 321.53,304.1" fill="#4a4a4a"/>
<polygon points="337.98,301.72 340.36,304.1 337.98,306.47 335.61,304.1" fill="#4a4a4a"/>
<polygon points="352.06,301.72 354.44,304.1 352.06,306.47 349.69,304.1" fill="#4a4a4a"/>
<polygon points="366.14,301.72 368.52,304.1 366.14,306.47 363.77,304.1" fill="#4a4a4a"/>
<polygon points="380.22,301.72 382.6,304.1 380.22,306.47 377.85,304.1" fill="#4a4a4a"/>
<path d="M391.9 304.9L395.9 304.9" stroke="#555" stroke-width="1.3" fill="none"/>
<path d="M434.54 303L438.14 306.6M438.14 303L434.54 306.6" stroke="#666" stroke-width="1.1" fill="none"/>
<path d="M448.62 303L452.22 306.6M452.22 303L448.62 306.6" stroke="#666" stroke-width="1.1" fill="none"/>
<path d="M462.7 303L466.3 306.6M466.3 303L462.7 306.6" stroke="#666" stroke-width="1.1" fill="none"/>
<path d="M476.78 303L480.38 306.6M480.38 303L476.78 306.6" stroke="#666" stroke-width="1.1" fill="none"/>
<path d="M490.86 303L494.46 306.6M494.46 303L490.86 306.6" stroke="#666" stroke-width="1.1" fill="none"/>
<path d="M504.94 303L508.54 306.6M508.54 303L504.94 306.6" stroke="#666" stroke-width="1.1" fill="none"/>
</svg></body></html>
